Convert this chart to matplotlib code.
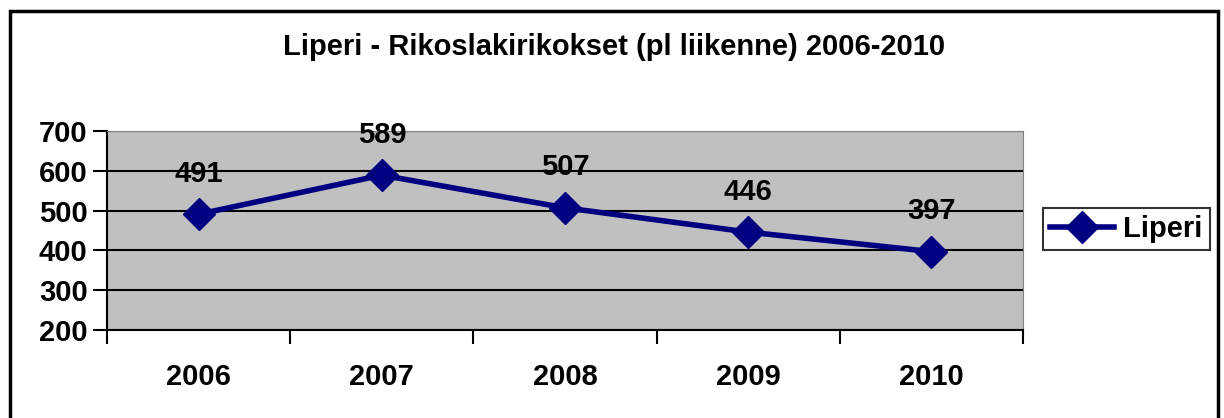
import matplotlib.pyplot as plt
from matplotlib.patches import Rectangle

plt.rcParams['font.family'] = ['Liberation Sans', 'DejaVu Sans']
plt.rcParams['font.weight'] = 'bold'

years = ['2006', '2007', '2008', '2009', '2010']
values = [491, 589, 507, 446, 397]
series_name = 'Liperi'
title = 'Liperi - Rikoslakirikokset (pl liikenne) 2006-2010'

W, H = 1224, 418
fig = plt.figure(figsize=(W / 100, H / 100), dpi=100)

# outer chart border (bottom runs off the picture)
fig.patches.append(Rectangle((10 / W, -0.05), 1208 / W, 1.05 - 11 / H,
                             transform=fig.transFigure, fill=False,
                             edgecolor='black', linewidth=2.5))

ax = fig.add_axes([107 / W, 1 - 330 / H, (1023 - 107) / W, (330 - 131) / H])
ax.set_facecolor('#c0c0c0')
x = list(range(len(years)))
ax.plot(x, values, color='#000080', linewidth=4, marker='D', markersize=16,
        label=series_name, zorder=3)
for xi, v in zip(x, values):
    ax.annotate(str(v), (xi, v), xytext=(0, 19), textcoords='offset points',
                ha='center', va='bottom', fontsize=21, fontweight='bold')

ax.set_xlim(-0.5, 4.5)
ax.set_ylim(200, 700)
ax.set_yticks(range(200, 701, 100))
ax.grid(axis='y', color='black', linewidth=1.5)
ax.set_axisbelow(True)

ax.set_xticks(x)
ax.set_xticklabels(years, fontsize=21, fontweight='bold')
ax.tick_params(axis='x', length=0, pad=24)
ax.set_xticks([i - 0.5 for i in range(len(years) + 1)], minor=True)
ax.tick_params(axis='x', which='minor', length=10, width=1.5, direction='out')
ax.tick_params(axis='y', length=10, width=1.5, labelsize=21, pad=4)
for lbl in ax.get_yticklabels():
    lbl.set_fontweight('bold')

for side in ['top', 'right']:
    ax.spines[side].set_color('#808080')
for side in ['left', 'bottom']:
    ax.spines[side].set_color('black')
    ax.spines[side].set_linewidth(1.5)

fig.text(614 / W, 1 - 47 / H, title, ha='center', va='center',
         fontsize=21, fontweight='bold')

leg = ax.legend(loc='center left', bbox_to_anchor=(1043 / W, 1 - 229 / H),
                bbox_transform=fig.transFigure, fontsize=21, frameon=True,
                fancybox=False, edgecolor='black', handlelength=2.2,
                borderpad=0.25, handletextpad=0.3, borderaxespad=0)
leg.get_frame().set_linewidth(1.5)
for t in leg.get_texts():
    t.set_fontweight('bold')

fig.savefig('out.png', dpi=100)
